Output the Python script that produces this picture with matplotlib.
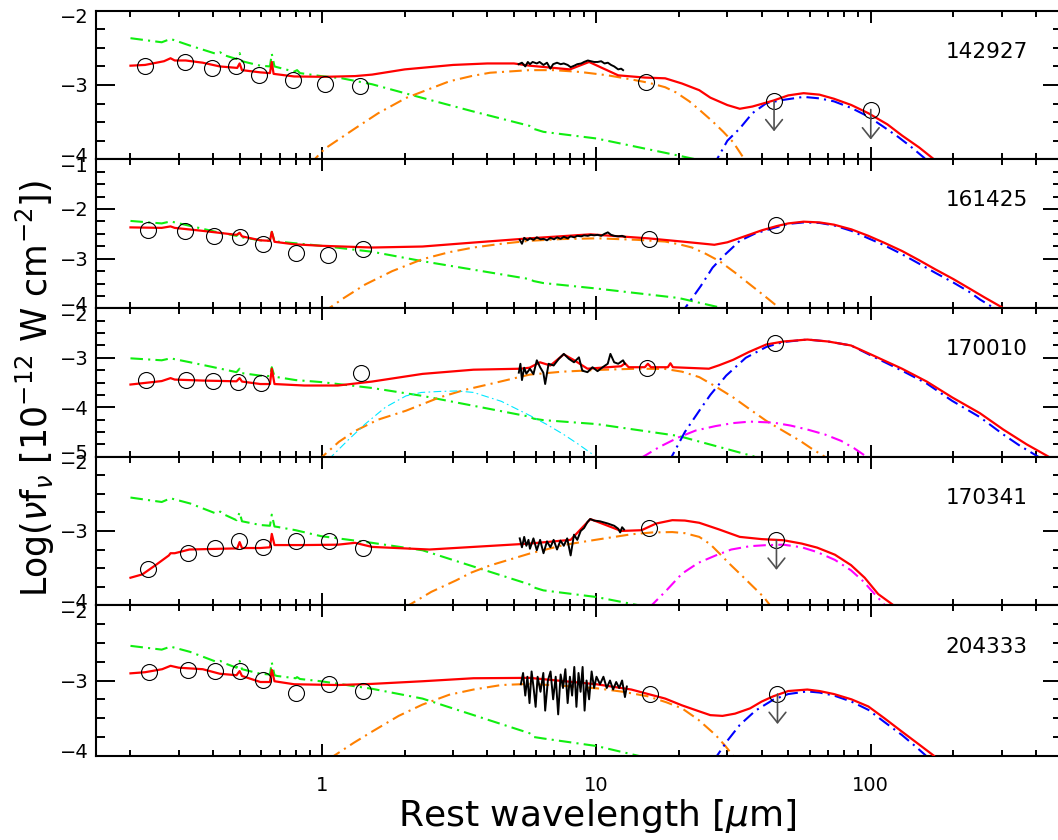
import matplotlib
matplotlib.use('Agg')
import matplotlib.pyplot as plt
from matplotlib.ticker import FixedLocator, LogLocator, NullFormatter, FixedFormatter
from matplotlib.transforms import ScaledTranslation, offset_copy

# ---------------- data ----------------
PANEL_NAMES = ['142927', '161425', '170010', '170341', '204333']
YLIMS = [(-4, -2), (-4, -1), (-5, -2), (-4, -2), (-4, -2)]
XLIM = (0.15, 500)
XTICKS = [1, 10, 100]
XTICKLABELS = ['1', '10', '100']

# ---- panel 1 : 142927
P1_PHOT_WL = [0.225, 0.315, 0.397, 0.484, 0.590, 0.781, 1.025, 1.374, 15.2, 44.4, 100.0]
P1_PHOT_LOG = [-2.74, -2.69, -2.77, -2.74, -2.87, -2.93, -2.98, -3.01, -2.96, -3.22, -3.33]
P1_UPPER = [0, 0, 0, 0, 0, 0, 0, 0, 0, 1, 1]
P1_STARS = [(0.20, -2.37), (0.26, -2.425), (0.28, -2.38), (0.33, -2.47), (0.41, -2.58), (0.425, -2.56),
            (0.44, -2.60), (0.487, -2.65), (0.50, -2.57), (0.51, -2.68), (0.595, -2.74), (0.645, -2.75),
            (0.655, -2.58), (0.67, -2.75), (0.685, -2.76), (0.79, -2.82), (0.81, -2.80), (0.83, -2.84),
            (0.99, -2.88), (1.18, -2.91), (1.52, -2.99), (2.0, -3.11), (3.5, -3.35), (5.7, -3.55),
            (5.9, -3.59), (6.4, -3.63), (10, -3.72), (19.9, -3.95), (23, -4.0), (25, -4.03)]
P1_TOTAL = [(0.20, -2.74), (0.226, -2.73), (0.265, -2.68), (0.28, -2.64), (0.29, -2.67), (0.318, -2.67),
            (0.367, -2.70), (0.423, -2.75), (0.49, -2.77), (0.50, -2.71), (0.51, -2.80), (0.595, -2.83),
            (0.645, -2.84), (0.655, -2.69), (0.665, -2.85), (0.79, -2.885), (1.02, -2.89), (1.32, -2.88),
            (1.52, -2.86), (2.0, -2.79), (3.0, -2.73), (4.0, -2.71), (5.0, -2.71), (5.7, -2.74),
            (8.0, -2.79), (9.4, -2.69), (12, -2.87), (15, -2.90), (17.8, -2.91), (20.5, -2.98),
            (23.7, -3.07), (26, -3.17), (30, -3.27), (33.3, -3.32), (37, -3.29), (44.1, -3.21),
            (50, -3.14), (56.9, -3.11), (65, -3.13), (73.4, -3.185), (85, -3.27), (98, -3.38),
            (115, -3.53), (130, -3.68), (150, -3.84), (170, -4.0), (175, -4.04)]
P1_HOT = [(0.90, -4.07), (1.02, -3.86), (1.317, -3.585), (1.6, -3.38), (2.02, -3.175), (2.91, -2.95),
          (3.5, -2.88), (4.09, -2.835), (5.7, -2.80), (7, -2.80), (8.75, -2.825), (11, -2.87),
          (13.4, -2.925), (15.5, -2.97), (17.8, -3.03), (19.5, -3.10), (21.8, -3.22), (24, -3.35),
          (26.5, -3.49), (29, -3.63), (31.5, -3.77), (34.2, -3.97), (35, -4.05)]
P1_COLD = [(26.5, -4.1), (27.5, -4.0), (30, -3.75), (33.3, -3.585), (37, -3.38), (41.6, -3.245),
           (48, -3.20), (56.9, -3.16), (65, -3.18), (73.4, -3.22), (85, -3.31), (98, -3.425),
           (110, -3.55), (126, -3.70), (140, -3.83), (156.5, -3.98), (160, -4.02)]
P1_IRS = [(5.2, -2.72), (5.35, -2.70), (5.5, -2.75), (5.62, -2.69), (5.72, -2.72), (5.85, -2.69),
          (6.06, -2.71), (6.2, -2.69), (6.41, -2.73), (6.6, -2.70), (6.79, -2.78), (6.95, -2.72),
          (7.18, -2.70), (7.4, -2.72), (7.6, -2.71), (7.85, -2.73), (8.05, -2.76), (8.3, -2.74),
          (8.51, -2.72), (8.8, -2.71), (9.01, -2.69), (9.3, -2.67), (9.54, -2.68), (9.8, -2.69),
          (10.1, -2.69), (10.4, -2.68), (10.7, -2.71), (11.0, -2.70), (11.3, -2.73), (11.6, -2.75),
          (12.0, -2.79), (12.3, -2.78), (12.5, -2.80)]

# ---- panel 2 : 161425
P2_PHOT_WL = [0.232, 0.317, 0.404, 0.50, 0.607, 0.80, 1.05, 1.405, 15.6, 45.3]
P2_PHOT_LOG = [-2.43, -2.44, -2.55, -2.57, -2.70, -2.88, -2.93, -2.80, -2.61, -2.32]
P2_UPPER = [0, 0, 0, 0, 0, 0, 0, 0, 0, 0]
P2_STARS = [(0.20, -2.24), (0.26, -2.29), (0.28, -2.25), (0.33, -2.34), (0.41, -2.46), (0.487, -2.54),
            (0.50, -2.48), (0.51, -2.57), (0.595, -2.63), (0.645, -2.64), (0.655, -2.46), (0.67, -2.65),
            (0.80, -2.69), (0.99, -2.74), (1.52, -2.86), (2.32, -3.05), (5.7, -3.41), (5.9, -3.45),
            (6.4, -3.49), (10, -3.60), (19.9, -3.79), (28.1, -3.98), (29, -4.02)]
P2_TOTAL = [(0.20, -2.37), (0.26, -2.38), (0.28, -2.35), (0.29, -2.38), (0.367, -2.44), (0.487, -2.52),
            (0.50, -2.48), (0.51, -2.55), (0.595, -2.63), (0.645, -2.64), (0.655, -2.46), (0.67, -2.66),
            (0.79, -2.71), (0.99, -2.74), (1.52, -2.775), (2.32, -2.755), (3.56, -2.675), (5.7, -2.59),
            (9.5, -2.51), (15.4, -2.59), (20.5, -2.655), (26.9, -2.72), (30, -2.67), (35.1, -2.54),
            (40, -2.43), (45.3, -2.345), (50, -2.29), (56.9, -2.255), (65, -2.27), (73.4, -2.315),
            (85, -2.41), (98, -2.54), (112, -2.68), (130, -2.845), (150, -3.03), (172, -3.215),
            (200, -3.41), (229, -3.60), (260, -3.78), (300, -3.975), (305, -4.01)]
P2_HOT = [(1.0, -4.08), (1.064, -3.99), (1.2, -3.79), (1.434, -3.52), (1.8, -3.25), (2.32, -3.01),
          (2.9, -2.87), (3.56, -2.775), (4.5, -2.70), (5.7, -2.64), (7.5, -2.605), (10.1, -2.59),
          (14, -2.62), (17.8, -2.655), (20, -2.71), (22.3, -2.775), (25, -2.90), (28.1, -3.05),
          (32, -3.28), (36.3, -3.52), (41, -3.75), (46, -3.975), (47, -4.03)]
P2_COLD = [(20, -4.1), (21.0, -4.0), (24, -3.55), (26.5, -3.18), (29, -2.95), (33.3, -2.64),
           (38, -2.49), (44.1, -2.385), (50, -2.30), (56.9, -2.27), (65, -2.28), (73.4, -2.33),
           (85, -2.44), (98, -2.59), (112, -2.73), (130, -2.91), (150, -3.10), (172, -3.285),
           (200, -3.48), (229, -3.67), (250, -3.82), (275, -3.96), (285, -4.04)]
P2_IRS = [(5.25, -2.62), (5.35, -2.70), (5.45, -2.58), (5.6, -2.63), (5.72, -2.59), (5.9, -2.62),
          (6.06, -2.57), (6.25, -2.61), (6.41, -2.60), (6.6, -2.63), (6.79, -2.58), (7.0, -2.61),
          (7.18, -2.57), (7.4, -2.60), (7.6, -2.56), (7.85, -2.59), (8.05, -2.55), (8.3, -2.57),
          (8.51, -2.54), (8.8, -2.55), (9.01, -2.53), (9.3, -2.54), (9.54, -2.52), (9.8, -2.53),
          (10.1, -2.52), (10.4, -2.54), (10.7, -2.50), (11.0, -2.47), (11.3, -2.52), (11.6, -2.54),
          (12.0, -2.55), (12.4, -2.54), (12.7, -2.56)]

# ---- panel 3 : 170010
P3_PHOT_WL = [0.228, 0.318, 0.40, 0.493, 0.598, 1.385, 15.3, 44.8]
P3_PHOT_LOG = [-3.44, -3.45, -3.47, -3.48, -3.51, -3.30, -3.20, -2.70]
P3_UPPER = [0, 0, 0, 0, 0, 0, 0, 0]
P3_STARS = [(0.20, -3.01), (0.26, -3.05), (0.28, -3.01), (0.33, -3.09), (0.41, -3.20), (0.487, -3.29),
            (0.50, -3.22), (0.51, -3.31), (0.595, -3.36), (0.645, -3.37), (0.655, -3.19), (0.67, -3.38),
            (0.685, -3.39), (0.80, -3.45), (0.99, -3.49), (1.52, -3.61), (2.32, -3.77), (5.7, -4.19),
            (5.9, -4.23), (6.4, -4.26), (10, -4.34), (19.9, -4.58), (37.3, -4.99), (38.5, -5.03)]
P3_TOTAL = [(0.20, -3.54), (0.26, -3.47), (0.28, -3.41), (0.29, -3.44), (0.367, -3.46), (0.487, -3.475),
            (0.50, -3.41), (0.51, -3.48), (0.595, -3.53), (0.645, -3.53), (0.655, -3.22), (0.67, -3.53),
            (0.86, -3.56), (1.14, -3.56), (1.52, -3.48), (2.32, -3.325), (3.56, -3.24), (5.3, -3.22),
            (5.7, -3.20), (6.22, -3.09), (6.79, -3.155), (7.6, -2.93), (8.3, -3.05), (9.27, -3.22),
            (11.0, -3.19), (12.3, -3.17), (12.7, -3.11), (13.1, -3.19), (15.0, -3.19), (15.4, -3.12),
            (15.8, -3.19), (18.2, -3.19), (18.6, -3.11), (19.0, -3.19), (25.7, -3.22), (28, -3.15),
            (31.5, -3.04), (36, -2.88), (41.6, -2.73), (48, -2.67), (58.7, -2.63), (70, -2.67),
            (84.7, -2.75), (100, -2.93), (130, -3.22), (160, -3.48), (198, -3.80), (250, -4.12),
            (304, -4.45), (370, -4.75), (445, -5.0), (460, -5.05)]
P3_HOT = [(0.95, -5.07), (1.006, -4.99), (1.15, -4.70), (1.317, -4.48), (1.6, -4.25), (2.02, -4.07),
          (2.68, -3.80), (3.3, -3.65), (4.09, -3.53), (5.7, -3.34), (7.5, -3.28), (10.1, -3.245),
          (14, -3.22), (17.8, -3.225), (20.5, -3.28), (23.7, -3.39), (27, -3.57), (31.5, -3.80),
          (36, -4.03), (41.6, -4.275), (48, -4.48), (55.3, -4.68), (61, -4.84), (67.5, -4.99),
          (69, -5.03)]
P3_COLD = [(18, -5.1), (18.8, -5.0), (21, -4.5), (23.7, -4.07), (26, -3.75), (29.7, -3.36),
           (35, -3.0), (41.6, -2.78), (48, -2.68), (58.7, -2.63), (70, -2.67), (84.7, -2.75),
           (100, -2.95), (130, -3.26), (160, -3.52), (198, -3.87), (250, -4.2), (304, -4.55),
           (350, -4.78), (405, -4.99), (420, -5.05)]
P3_WARM = [(14.5, -5.03), (14.8, -5.0), (17, -4.80), (19.9, -4.61), (23, -4.47), (27.2, -4.38),
           (31.5, -4.32), (36.3, -4.29), (44.1, -4.31), (51, -4.37), (58.7, -4.45), (68, -4.55),
           (78, -4.68), (87, -4.83), (96.5, -5.0), (98, -5.03)]
P3_EXTRA = [(1.05, -5.05), (1.08, -5.0), (1.25, -4.65), (1.434, -4.34), (1.7, -4.0), (2.02, -3.77),
            (2.3, -3.70), (2.68, -3.68), (3.1, -3.67), (3.56, -3.70), (4.5, -3.88), (5.73, -4.17),
            (6.6, -4.35), (7.59, -4.55), (8.6, -4.75), (9.67, -4.95), (9.9, -5.02)]
P3_IRS = [(5.21, -3.30), (5.28, -3.12), (5.35, -3.45), (5.45, -3.20), (5.55, -3.32), (5.72, -3.22),
          (5.89, -3.33), (6.06, -3.05), (6.23, -3.19), (6.40, -3.30), (6.50, -3.53), (6.69, -3.12),
          (6.98, -3.155), (7.29, -3.02), (7.60, -2.92), (7.93, -3.02), (8.28, -3.09), (8.63, -2.99),
          (8.88, -3.26), (9.27, -3.29), (9.67, -3.19), (10.09, -3.27), (10.53, -3.19), (10.99, -3.12),
          (11.24, -2.92), (11.6, -3.09), (12.0, -3.12), (12.5, -3.05), (12.7, -3.12)]

# ---- panel 4 : 170341
P4_PHOT_WL = [0.231, 0.324, 0.407, 0.499, 0.607, 0.803, 1.058, 1.405, 15.6, 45.3]
P4_PHOT_LOG = [-3.51, -3.30, -3.225, -3.14, -3.21, -3.14, -3.14, -3.23, -2.96, -3.12]
P4_UPPER = [0, 0, 0, 0, 0, 0, 0, 0, 0, 1]
P4_STARS = [(0.20, -2.55), (0.26, -2.61), (0.28, -2.56), (0.33, -2.63), (0.41, -2.765), (0.425, -2.74),
            (0.44, -2.78), (0.487, -2.855), (0.50, -2.75), (0.51, -2.87), (0.595, -2.92), (0.645, -2.93),
            (0.655, -2.78), (0.67, -2.94), (0.685, -2.945), (0.80, -2.99), (0.99, -3.07), (1.52, -3.16),
            (2.32, -3.26), (5.7, -3.72), (5.9, -3.76), (6.4, -3.80), (10, -3.89), (14.2, -4.0), (15, -4.02)]
P4_TOTAL = [(0.20, -3.63), (0.221, -3.585), (0.247, -3.46), (0.276, -3.33), (0.28, -3.30), (0.29, -3.30),
            (0.328, -3.25), (0.423, -3.24), (0.49, -3.235), (0.50, -3.15), (0.51, -3.23), (0.595, -3.23),
            (0.645, -3.22), (0.655, -3.04), (0.67, -3.19), (0.86, -3.19), (1.14, -3.185), (1.317, -3.16),
            (1.52, -3.215), (2.46, -3.25), (5.7, -3.17), (8.05, -3.12), (9.5, -2.84), (12.3, -3.00),
            (14.6, -2.99), (16.5, -2.90), (18.9, -2.855), (21, -2.86), (23.7, -2.89), (28, -2.98),
            (33.3, -3.08), (40, -3.11), (48, -3.125), (56, -3.17), (63.8, -3.225), (74, -3.32),
            (84.7, -3.46), (95, -3.63), (106.4, -3.85), (121, -4.0), (124, -4.03)]
P4_HOT = [(2.0, -4.04), (2.07, -4.0), (2.5, -3.82), (3.08, -3.665), (3.5, -3.56), (4.09, -3.465),
          (5.7, -3.305), (7.59, -3.19), (8.8, -3.15), (10.1, -3.115), (13.4, -3.045), (16, -3.02),
          (18.9, -3.015), (21, -3.03), (23.7, -3.08), (26, -3.18), (28.1, -3.305), (30.5, -3.44),
          (33.3, -3.575), (37, -3.74), (40.7, -3.89), (42.9, -4.0), (43.5, -4.03)]
P4_WARM = [(15.5, -4.03), (15.9, -4.0), (18, -3.80), (20.5, -3.575), (23.5, -3.43), (27.2, -3.33),
           (31, -3.25), (36.3, -3.205), (42, -3.19), (48, -3.185), (56, -3.22), (63.8, -3.285),
           (74, -3.39), (84.7, -3.53), (94, -3.68), (103, -3.845), (112.6, -4.0), (114, -4.03)]
P4_IRS = [(5.25, -3.10), (5.35, -3.22), (5.45, -3.08), (5.55, -3.20), (5.65, -3.12), (5.72, -3.24),
          (5.89, -3.10), (6.06, -3.26), (6.23, -3.12), (6.41, -3.30), (6.60, -3.14), (6.79, -3.22),
          (6.98, -3.12), (7.18, -3.25), (7.39, -3.13), (7.60, -3.20), (7.82, -3.10), (8.05, -3.33),
          (8.28, -3.05), (8.51, -3.12), (8.76, -3.00), (9.01, -2.96), (9.27, -2.88), (9.48, -2.84),
          (9.81, -2.86), (10.3, -2.87), (11.0, -2.90), (11.6, -2.93), (12.0, -2.97), (12.2, -3.02),
          (12.4, -2.95), (12.6, -2.98)]

# ---- panel 5 : 204333
P5_PHOT_WL = [0.233, 0.324, 0.408, 0.50, 0.609, 0.803, 1.061, 1.413, 15.7, 45.7]
P5_PHOT_LOG = [-2.89, -2.865, -2.875, -2.875, -2.995, -3.16, -3.045, -3.135, -3.18, -3.18]
P5_UPPER = [0, 0, 0, 0, 0, 0, 0, 0, 0, 1]
P5_STARS = [(0.20, -2.54), (0.26, -2.59), (0.28, -2.55), (0.33, -2.62), (0.41, -2.75), (0.425, -2.74),
            (0.44, -2.77), (0.487, -2.83), (0.50, -2.74), (0.51, -2.85), (0.595, -2.91), (0.645, -2.92),
            (0.655, -2.76), (0.67, -2.93), (0.685, -2.94), (0.80, -2.97), (0.81, -2.955), (0.83, -2.98),
            (0.99, -3.01), (1.52, -3.11), (2.32, -3.24), (5.7, -3.70), (5.9, -3.75), (6.4, -3.77),
            (10, -3.87), (14.2, -4.0), (15, -4.02)]
P5_TOTAL = [(0.20, -2.905), (0.226, -2.89), (0.261, -2.85), (0.28, -2.805), (0.30, -2.83), (0.367, -2.85),
            (0.423, -2.91), (0.487, -2.93), (0.50, -2.875), (0.51, -2.94), (0.595, -3.02), (0.645, -3.02),
            (0.655, -2.86), (0.67, -3.01), (0.79, -3.05), (1.14, -3.06), (1.52, -3.045), (2.32, -3.01),
            (3.56, -2.97), (5.7, -2.965), (10, -3.05), (13.4, -3.12), (17.8, -3.24), (20.5, -3.33),
            (23.7, -3.41), (26, -3.46), (28.8, -3.47), (32, -3.44), (36.3, -3.37), (40, -3.28),
            (44.1, -3.21), (50, -3.14), (58.7, -3.12), (65, -3.14), (73.4, -3.18), (85, -3.25),
            (98, -3.345), (112, -3.50), (130, -3.68), (150, -3.85), (170, -4.0), (173, -4.03)]
P5_HOT = [(1.06, -4.04), (1.104, -4.0), (1.3, -3.83), (1.518, -3.68), (1.9, -3.47), (2.32, -3.32),
          (2.9, -3.19), (3.56, -3.12), (4.5, -3.06), (5.7, -3.045), (7.5, -3.07), (10.1, -3.105),
          (12.5, -3.15), (15.4, -3.21), (18, -3.29), (20.5, -3.37), (23.5, -3.52), (27.2, -3.725),
          (29.5, -3.87), (31.5, -4.0), (32.3, -4.04)]
P5_COLD = [(26.5, -4.06), (27.5, -4.0), (30, -3.80), (33.3, -3.59), (38, -3.40), (44.1, -3.255),
           (50, -3.18), (58.7, -3.145), (65, -3.16), (73.4, -3.2), (85, -3.28), (98, -3.39),
           (112, -3.55), (130, -3.725), (145, -3.87), (158, -3.99), (162, -4.03)]
P5_IRS = [(5.3, -3.05), (5.4, -2.90), (5.5, -3.20), (5.6, -2.95), (5.7, -3.30), (5.8, -2.88),
          (5.9, -3.10), (6.0, -3.35), (6.1, -2.95), (6.25, -3.15), (6.4, -2.90), (6.5, -3.40),
          (6.65, -3.00), (6.8, -2.88), (6.95, -3.25), (7.1, -2.95), (7.25, -3.45), (7.4, -2.92),
          (7.55, -3.10), (7.7, -2.85), (7.85, -3.30), (8.0, -2.95), (8.15, -3.20), (8.3, -2.82),
          (8.45, -3.35), (8.6, -2.90), (8.75, -3.15), (8.9, -2.82), (9.05, -3.40), (9.2, -3.00),
          (9.4, -3.25), (9.6, -2.88), (9.8, -3.10), (10.0, -2.95), (10.3, -3.05), (10.6, -2.95),
          (10.9, -3.10), (11.2, -3.00), (11.5, -3.12), (11.8, -3.02), (12.1, -3.10), (12.4, -3.00),
          (12.7, -3.22), (12.9, -3.08)]

PANELS = [
    dict(phot=(P1_PHOT_WL, P1_PHOT_LOG, P1_UPPER), stars=P1_STARS, total=P1_TOTAL, hot=P1_HOT,
         cold=P1_COLD, warm=None, extra=None, irs=P1_IRS),
    dict(phot=(P2_PHOT_WL, P2_PHOT_LOG, P2_UPPER), stars=P2_STARS, total=P2_TOTAL, hot=P2_HOT,
         cold=P2_COLD, warm=None, extra=None, irs=P2_IRS),
    dict(phot=(P3_PHOT_WL, P3_PHOT_LOG, P3_UPPER), stars=P3_STARS, total=P3_TOTAL, hot=P3_HOT,
         cold=P3_COLD, warm=P3_WARM, extra=P3_EXTRA, irs=P3_IRS),
    dict(phot=(P4_PHOT_WL, P4_PHOT_LOG, P4_UPPER), stars=P4_STARS, total=P4_TOTAL, hot=P4_HOT,
         cold=None, warm=P4_WARM, extra=None, irs=P4_IRS),
    dict(phot=(P5_PHOT_WL, P5_PHOT_LOG, P5_UPPER), stars=P5_STARS, total=P5_TOTAL, hot=P5_HOT,
         cold=P5_COLD, warm=None, extra=None, irs=P5_IRS),
]

# ---------------- figure ----------------
W, H = 1058, 840
fig = plt.figure(figsize=(W / 100, H / 100), dpi=100)
plt.rcParams['font.family'] = ['DejaVu Sans']

# panel boundaries in pixels (top of panel 1 ... bottom of panel 5)
EDGES = [10.7, 159.3, 308.4, 456.7, 605.2, 755.8]
LEFT_PX, RIGHT_PX = 96.2, 1062.5

DASHDOT = (0, (6, 2.5, 1, 2.5))
LW = 1.5


def split(pairs):
    return [p[0] for p in pairs], [p[1] for p in pairs]


for i, (pan, name, ylim) in enumerate(zip(PANELS, PANEL_NAMES, YLIMS)):
    top, bot = EDGES[i], EDGES[i + 1]
    ax = fig.add_axes([LEFT_PX / W, 1 - bot / H, (RIGHT_PX - LEFT_PX) / W, (bot - top) / H])
    ax.set_xscale('log')
    ax.set_xlim(*XLIM)
    ax.set_ylim(*ylim)

    x, y = split(pan['stars'])
    ax.plot(x, y, color='#10ee10', lw=LW, ls=DASHDOT, zorder=2)
    x, y = split(pan['hot'])
    ax.plot(x, y, color='#ff8000', lw=LW, ls=DASHDOT, zorder=2)
    if pan['extra'] is not None:
        x, y = split(pan['extra'])
        ax.plot(x, y, color='#00e8ff', lw=0.8, ls=(0, (7, 3, 1.5, 3)), zorder=2)
    if pan['warm'] is not None:
        x, y = split(pan['warm'])
        ax.plot(x, y, color='#ff00ff', lw=LW, ls=DASHDOT, zorder=2)
    if pan['cold'] is not None:
        x, y = split(pan['cold'])
        ax.plot(x, y, color='#0000ff', lw=LW, ls=DASHDOT, zorder=2)
    x, y = split(pan['total'])
    ax.plot(x, y, color='#ff0000', lw=1.6, zorder=3, solid_joinstyle='round')
    x, y = split(pan['irs'])
    ax.plot(x, y, color='black', lw=1.4, zorder=4)

    wl, lg, up = pan['phot']
    ax.plot(wl, lg, ls='none', marker='o', ms=11.5, mfc='none', mec='black', mew=0.8, zorder=5)
    for lam, val, u in zip(wl, lg, up):
        if u:
            head = offset_copy(ax.transData, fig=fig, x=0, y=-30, units='dots')
            ax.annotate('', xy=(lam, val), xycoords=head, xytext=(lam, val), textcoords='data',
                        arrowprops=dict(arrowstyle='->,head_length=0.5,head_width=0.4',
                                        color='#505050', lw=1.2, shrinkA=0, shrinkB=0,
                                        mutation_scale=15), zorder=6)

    ax.text(0.964, 0.725, name, transform=ax.transAxes, ha='right', va='center', fontsize=15.5)

    # ticks
    yt = list(range(ylim[0], ylim[1] + 1))
    ax.yaxis.set_major_locator(FixedLocator(yt))
    ax.yaxis.set_major_formatter(FixedFormatter(['\u2212%d' % abs(t) for t in yt]))
    ax.yaxis.set_minor_locator(FixedLocator([ylim[0] + 0.25 * k for k in range(4 * (ylim[1] - ylim[0]) + 1)]))
    ax.xaxis.set_major_locator(FixedLocator(XTICKS))
    ax.xaxis.set_minor_locator(LogLocator(base=10, subs=range(2, 10), numticks=20))
    ax.xaxis.set_minor_formatter(NullFormatter())
    if i == len(PANELS) - 1:
        ax.xaxis.set_major_formatter(FixedFormatter(XTICKLABELS))
    else:
        ax.xaxis.set_major_formatter(NullFormatter())

    ax.tick_params(which='both', direction='in', top=True, right=True, width=1.4, colors='black')
    ax.tick_params(axis='x', which='major', length=8.6, pad=14.5, labelsize=14)
    ax.tick_params(axis='x', which='minor', length=4.3)
    ax.tick_params(axis='y', which='major', length=13.7, pad=5.3, labelsize=14)
    ax.tick_params(axis='y', which='minor', length=6.5)
    for s in ax.spines.values():
        s.set_linewidth(1.5)

    ticks = ax.yaxis.get_major_ticks()
    shift = 5 / 100
    ticks[0].label1.set_transform(ticks[0].label1.get_transform() +
                                  ScaledTranslation(0, shift, fig.dpi_scale_trans))
    ticks[-1].label1.set_transform(ticks[-1].label1.get_transform() +
                                   ScaledTranslation(0, -shift, fig.dpi_scale_trans))

fig.text(35 / W, 1 - 388 / H, r'Log($\nu$f$_\nu$ [10$^{-12}$ W cm$^{-2}$])', rotation=90,
         ha='center', va='center', fontsize=25)
fig.text(597 / W, 1 - 826 / H, r'Rest wavelength [$\mu$m]', ha='center', va='baseline', fontsize=26)

fig.savefig('out.png', dpi=100)
